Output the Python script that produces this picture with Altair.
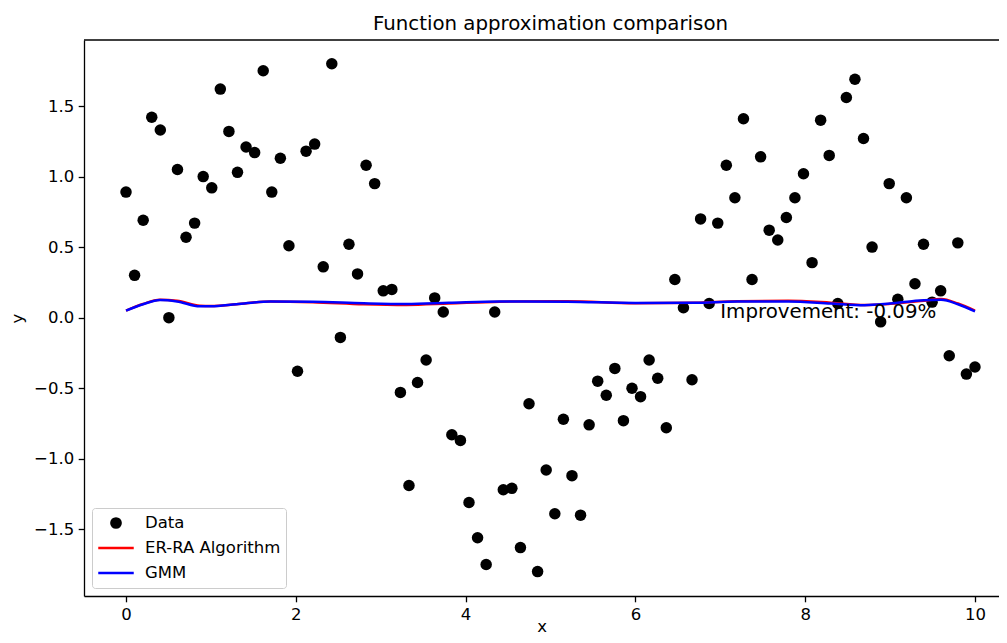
import altair as alt
import pandas as pd

# ---------------- data ----------------
x_data = [0.000, 0.101, 0.202, 0.303, 0.404, 0.505, 0.606, 0.707, 0.808, 0.909,
          1.010, 1.111, 1.212, 1.313, 1.414, 1.515, 1.616, 1.717, 1.818, 1.919,
          2.020, 2.121, 2.222, 2.323, 2.424, 2.525, 2.626, 2.727, 2.828, 2.929,
          3.030, 3.131, 3.232, 3.333, 3.434, 3.535, 3.636, 3.737, 3.838, 3.939,
          4.040, 4.141, 4.242, 4.343, 4.444, 4.545, 4.646, 4.747, 4.848, 4.949,
          5.051, 5.152, 5.253, 5.354, 5.455, 5.556, 5.657, 5.758, 5.859, 5.960,
          6.061, 6.162, 6.263, 6.364, 6.465, 6.566, 6.667, 6.768, 6.869, 6.970,
          7.071, 7.172, 7.273, 7.374, 7.475, 7.576, 7.677, 7.778, 7.879, 7.980,
          8.081, 8.182, 8.283, 8.384, 8.485, 8.586, 8.687, 8.788, 8.889, 8.990,
          9.091, 9.192, 9.293, 9.394, 9.495, 9.596, 9.697, 9.798, 9.899, 10.000]

y_data = [0.89, 0.30, 0.69, 1.42, 1.33, 0.00, 1.05, 0.57, 0.67, 1.00,
          0.92, 1.62, 1.32, 1.03, 1.21, 1.17, 1.75, 0.89, 1.13, 0.51,
          -0.38, 1.18, 1.23, 0.36, 1.80, -0.14, 0.52, 0.31, 1.08, 0.95,
          0.19, 0.20, -0.53, -1.19, -0.46, -0.30, 0.14, 0.04, -0.83, -0.87,
          -1.31, -1.56, -1.75, 0.04, -1.22, -1.21, -1.63, -0.61, -1.80, -1.08,
          -1.39, -0.72, -1.12, -1.40, -0.76, -0.45, -0.55, -0.36, -0.73, -0.50,
          -0.56, -0.30, -0.43, -0.78, 0.27, 0.07, -0.44, 0.70, 0.10, 0.67,
          1.08, 0.85, 1.41, 0.27, 1.14, 0.62, 0.55, 0.71, 0.85, 1.02,
          0.39, 1.40, 1.15, 0.10, 1.56, 1.69, 1.27, 0.50, -0.03, 0.95,
          0.13, 0.85, 0.24, 0.52, 0.11, 0.19, -0.27, 0.53, -0.40, -0.35]

line_x = [0.0, 0.2, 0.4, 0.6, 0.87, 1.0, 1.3, 1.7, 2.2, 2.8, 3.3, 3.8, 4.4,
          5.2, 6.0, 6.7, 7.2, 7.8, 8.3, 8.7, 9.0, 9.4, 9.6, 9.8, 10.0]
era_y = [0.05, 0.097, 0.127, 0.12, 0.085, 0.082, 0.095, 0.115, 0.11, 0.095,
         0.09, 0.10, 0.113, 0.117, 0.102, 0.105, 0.117, 0.12, 0.106, 0.09,
         0.098, 0.12, 0.132, 0.10, 0.05]
gmm_y = [0.05, 0.095, 0.125, 0.115, 0.08, 0.08, 0.095, 0.115, 0.113, 0.102,
         0.097, 0.105, 0.115, 0.113, 0.104, 0.106, 0.114, 0.114, 0.10, 0.088,
         0.10, 0.124, 0.126, 0.095, 0.045]

series_names = ["Data", "ER-RA Algorithm", "GMM"]
series_colors = ["black", "red", "blue"]
x_ticks = [0, 2, 4, 6, 8, 10]
y_ticks = [-1.5, -1.0, -0.5, 0.0, 0.5, 1.0, 1.5]
x_domain = [-0.495, 10.283]
y_domain = [-1.973, 1.968]
title_text = "Function approximation comparison"
note_text = ["Improvement: -0.09%"]
note_x = [7]
note_y = [0]

# ---------------- tables ----------------
pts = pd.DataFrame({"x": x_data, "y": y_data, "series": series_names[0]})
era = pd.DataFrame({"x": line_x, "y": era_y, "series": series_names[1]})
gmm = pd.DataFrame({"x": line_x, "y": gmm_y, "series": series_names[2]})
note = pd.DataFrame({"x": note_x, "y": note_y, "t": note_text})

FONT = "DejaVu Sans"
TICK_FS = 16.5
TITLE_FS = 19.8

xscale = alt.Scale(domain=x_domain, nice=False, zero=False)
yscale = alt.Scale(domain=y_domain, nice=False, zero=False)
cscale = alt.Scale(domain=series_names, range=series_colors)

xaxis = alt.Axis(values=x_ticks, format="d", title="x", grid=False,
                 titlePadding=-4)
yaxis = alt.Axis(values=y_ticks, format=".1f", title="y", grid=False,
                 titlePadding=8)

circle_path = "M -0.26 0 A 0.26 0.26 0 1 1 0.26 0 A 0.26 0.26 0 1 1 -0.26 0 Z"
legend = alt.Legend(
    title=None, orient="bottom-left", offset=8, padding=5,
    strokeColor="#cccccc", fillColor="white", cornerRadius=3,
    symbolSize=1260, symbolStrokeWidth=2.5, clipHeight=20, rowPadding=5,
    labelFontSize=TICK_FS, labelFont=FONT, labelColor="black", labelOffset=10,
    symbolOpacity=1,
    symbolType=alt.ExprRef(expr="datum.value === 'Data' ? '" + circle_path + "' : 'stroke'"),
)

color = alt.Color("series:N", scale=cscale, legend=legend)

points = alt.Chart(pts).mark_circle(size=132, opacity=1).encode(
    x=alt.X("x:Q", scale=xscale, axis=xaxis),
    y=alt.Y("y:Q", scale=yscale, axis=yaxis),
    color=color,
)

line_era = alt.Chart(era).mark_line(strokeWidth=2.5, interpolate="monotone").encode(
    x=alt.X("x:Q", scale=xscale), y=alt.Y("y:Q", scale=yscale), color=color)
line_gmm = alt.Chart(gmm).mark_line(strokeWidth=2.5, interpolate="monotone").encode(
    x=alt.X("x:Q", scale=xscale), y=alt.Y("y:Q", scale=yscale), color=color)

text = alt.Chart(note).mark_text(align="left", baseline="alphabetic", fontSize=TITLE_FS,
                                 font=FONT, color="black").encode(
    x=alt.X("x:Q", scale=xscale), y=alt.Y("y:Q", scale=yscale), text="t:N")

# top spine of the frame (the right spine lies outside the visible window)
top_spine = alt.Chart(note).mark_rule(color="black", strokeWidth=1.3).encode(
    y=alt.Y(datum=y_domain[1], scale=yscale)
)

chart = alt.layer(points, line_era, line_gmm, text, top_spine).properties(
    width=915, height=556,
    autosize=alt.AutoSizeParams(type="none"),
    padding={"left": 76, "top": 32, "right": 0, "bottom": 39},
    title=alt.TitleParams(title_text, fontSize=TITLE_FS, font=FONT, fontWeight="normal",
                          color="black", anchor="middle", offset=6, dx=9),
).configure_view(stroke=None).configure_axis(
    domainColor="black", domainWidth=1.3, tickColor="black", tickWidth=1.3,
    tickSize=5.8, labelPadding=4.5, labelFontSize=TICK_FS, labelFont=FONT,
    labelColor="black", titleFontSize=TICK_FS, titleFont=FONT, titleColor="black",
    titleFontWeight="normal",
)

chart.save("out.html", embed_options={"renderer": "svg", "actions": False})
